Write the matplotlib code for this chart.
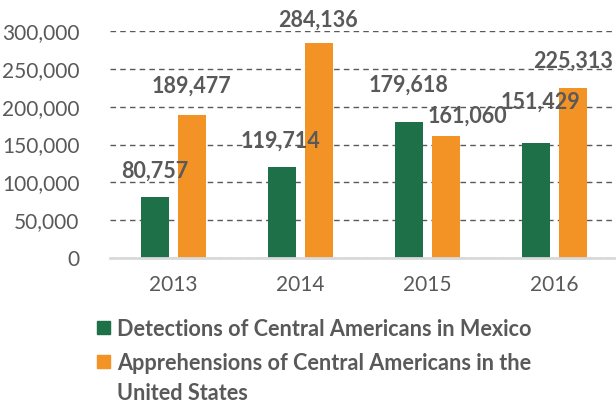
import matplotlib.pyplot as plt
from matplotlib.patches import Rectangle
import numpy as np

years = ["2013", "2014", "2015", "2016"]
mexico = [80757, 119714, 179618, 151429]
usa = [189477, 284136, 161060, 225313]
series_names = ["Detections of Central Americans in Mexico",
                "Apprehensions of Central Americans in the\nUnited States"]

# label offsets from bar top in pixels (dx, dy), hand placed like the original
mexico_offsets = [(0, 26), (-1.5, 26), (0, 37), (4.5, 41)]
usa_offsets = [(-1, 28), (-1.5, 23), (21.5, 20), (0, 26)]

green = "#1e7048"
orange = "#f39325"
grey = "#595959"

plt.rcParams["font.family"] = ["Lato", "DejaVu Sans"]

fig = plt.figure(figsize=(6.16, 4.05), dpi=100)
ax = fig.add_axes([110 / 616, 1 - 258 / 405, 508 / 616, 227 / 405])

x = np.arange(len(years))
w = 0.22
off = 0.146
ax.bar(x - off, mexico, w, color=green, zorder=3)
ax.bar(x + off, usa, w, color=orange, zorder=3)

for i in range(len(years)):
    ax.annotate(f"{mexico[i]:,}", (x[i] - off, mexico[i]), xytext=mexico_offsets[i],
                textcoords="offset pixels", ha="center", va="center", fontsize=15.5,
                fontweight="bold", color=grey, annotation_clip=False, zorder=4)
    ax.annotate(f"{usa[i]:,}", (x[i] + off, usa[i]), xytext=usa_offsets[i],
                textcoords="offset pixels", ha="center", va="center", fontsize=15.5,
                fontweight="bold", color=grey, annotation_clip=False, zorder=4)

ax.set_xlim(-0.5, 3.5)
ax.set_ylim(0, 300000)
ax.set_yticks(np.arange(0, 300001, 50000))
ax.set_yticklabels([f"{v:,}" for v in range(0, 300001, 50000)])
ax.set_xticks(x)
ax.set_xticklabels(years)
ax.tick_params(length=0, labelsize=15, colors=grey)
ax.tick_params(axis="y", pad=22)
ax.tick_params(axis="x", pad=12)
ax.grid(axis="y", linestyle=(0, (4, 3)), color="#595959", linewidth=1, zorder=0)
for s in ["top", "right", "left"]:
    ax.spines[s].set_visible(False)
ax.spines["bottom"].set_color("#d9d9d9")
ax.spines["bottom"].set_linewidth(2)
ax.spines["bottom"].set_zorder(5)

# legend drawn by hand so the square lines up with the first text line
legend_y = [327, 361]
for name, col, yy in zip(series_names, [green, orange], legend_y):
    fig.patches.append(Rectangle((97 / 616, 1 - (yy + 6.5) / 405), 13 / 616, 13 / 405,
                                 transform=fig.transFigure, color=col))
    fig.text(117 / 616, 1 - (yy - 8) / 405, name, fontsize=15.6, fontweight="bold",
             color=grey, va="top", linespacing=1.5)

fig.savefig("out.png", dpi=100)
